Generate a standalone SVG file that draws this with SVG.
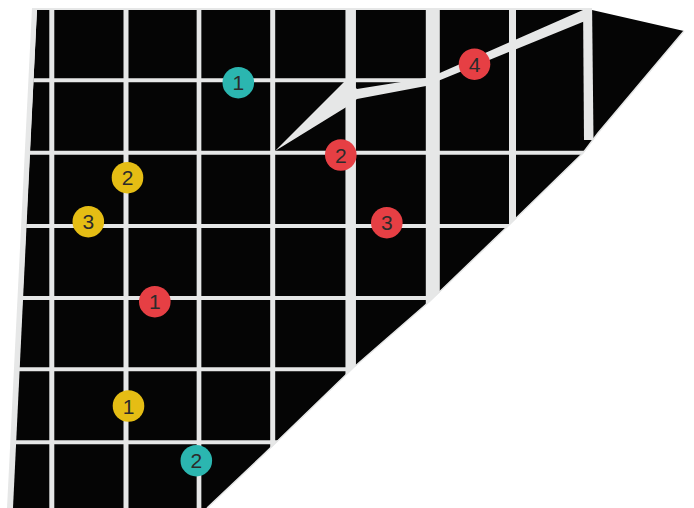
<svg xmlns="http://www.w3.org/2000/svg" width="694" height="508" viewBox="0 0 694 508">
  <style>
    .g { stroke: #e6e7e7; fill: none; }
    .gf { fill: #e6e7e7; }
    .node text { font-family: "Liberation Sans", Arial, sans-serif; font-size: 21px; fill: #2b2b2b; text-anchor: middle; }
    .teal { fill: #2bb6b0; }
    .yellow { fill: #e5bd14; }
    .red { fill: #e63f44; }
  </style>
  <defs>
    <clipPath id="shape">
      <polygon points="37,10 592,10 684,31 598,133 583,153 508,226 430,301 353,368 262,456 207,508 12,508"/>
    </clipPath>
  </defs>
  <rect width="694" height="508" fill="#ffffff"/>
  <g id="board">
    <polygon points="37,10 592,10 684,31 598,133 583,153 508,226 430,301 353,368 262,456 207,508 12,508" fill="#050505"/>
    <polyline class="g" stroke-width="1.5" points="684,31 598,133 583,153 508,226 430,301 353,368 262,456 207,508"/>
    <line class="g" stroke-width="2" x1="33" y1="9" x2="592" y2="9"/>
    <polygon class="gf" points="32,8 37,8 13,508 7,508"/>
  </g>
  <g id="grid" clip-path="url(#shape)">
    <g class="g" stroke-width="4">
      <line x1="0" y1="80.3" x2="433" y2="80.3"/>
      <line x1="0" y1="152.7" x2="700" y2="152.7"/>
      <line x1="0" y1="226" x2="700" y2="226"/>
      <line x1="0" y1="298" x2="700" y2="298"/>
      <line x1="0" y1="369.3" x2="700" y2="369.3"/>
      <line x1="0" y1="442.3" x2="700" y2="442.3"/>
    </g>
    <line class="g" stroke-width="5" x1="51.8" y1="0" x2="51.8" y2="508"/>
    <line class="g" stroke-width="5" x1="126" y1="0" x2="126" y2="508"/>
    <line class="g" stroke-width="4.7" x1="199" y1="0" x2="199" y2="508"/>
    <line class="g" stroke-width="5" x1="272.7" y1="0" x2="272.7" y2="508"/>
    <line class="g" stroke-width="10.5" x1="350.7" y1="0" x2="350.7" y2="508"/>
    <line class="g" stroke-width="14" x1="432.8" y1="0" x2="432.8" y2="508"/>
    <line class="g" stroke-width="7" x1="512.5" y1="0" x2="512.5" y2="508"/>
    <polygon class="gf" points="583,0 592,0 593.5,140 584,140"/>
    <polygon class="gf" points="275,151 344,82 350,82 357,89 426,78 433,76 583,10 590,10 590,19 433,83 426,86 357,99 348,106"/>
  </g>
  <g id="teal-1" class="node"><circle class="teal" cx="238.3" cy="82.7" r="15.8"/><text x="238.3" y="90.2">1</text></g>
  <g id="teal-2" class="node"><circle class="teal" cx="196.3" cy="460.7" r="15.8"/><text x="196.3" y="468.2">2</text></g>
  <g id="yellow-1" class="node"><circle class="yellow" cx="128.5" cy="406" r="15.8"/><text x="128.5" y="413.5">1</text></g>
  <g id="yellow-2" class="node"><circle class="yellow" cx="127.5" cy="177.7" r="15.8"/><text x="127.5" y="185.2">2</text></g>
  <g id="yellow-3" class="node"><circle class="yellow" cx="88.3" cy="221.7" r="15.8"/><text x="88.3" y="229.2">3</text></g>
  <g id="red-1" class="node"><circle class="red" cx="154.8" cy="301.7" r="15.8"/><text x="154.8" y="309.2">1</text></g>
  <g id="red-2" class="node"><circle class="red" cx="340.8" cy="155" r="15.8"/><text x="340.8" y="162.5">2</text></g>
  <g id="red-3" class="node"><circle class="red" cx="386.8" cy="222.7" r="15.8"/><text x="386.8" y="230.2">3</text></g>
  <g id="red-4" class="node"><circle class="red" cx="474.5" cy="64.2" r="15.8"/><text x="474.5" y="71.7">4</text></g>
</svg>
